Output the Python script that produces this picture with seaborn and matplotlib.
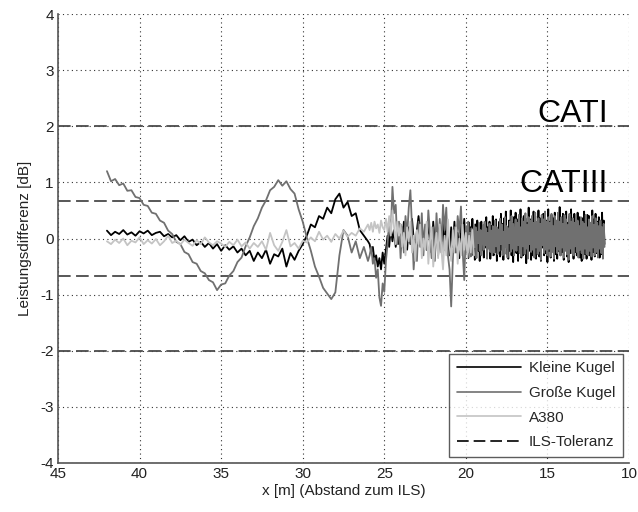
import numpy as np
import matplotlib
matplotlib.use("Agg")
import matplotlib.pyplot as plt
import seaborn as sns

# segment borders along x [m]: smooth part, noisy middle, dense band
x_start = 42.0
x_mid = 26.0
x_band = 20.0
x_end = 11.5
x_end_a380 = 19.5

# Kleine Kugel (black)
kleine_left = [0.14, 0.06, 0.12, 0.08, 0.15, 0.07, 0.11, 0.05, 0.13, 0.09, 0.14, 0.06, 0.10,
               0.12, 0.04, 0.08, 0.02, 0.06, -0.03, 0.04, -0.06,
               -0.02, -0.12, -0.06, -0.15, -0.08, -0.18, -0.10, -0.22, -0.12, -0.20, -0.14, -0.25,
               -0.18, -0.30, -0.22, -0.40, -0.25, -0.35, -0.20, -0.45, -0.28, -0.32, -0.18, -0.50,
               -0.26, -0.38, -0.22, -0.10,
               0.05, 0.25, 0.20, 0.40, 0.35, 0.55, 0.45, 0.70, 0.80, 0.55, 0.65, 0.40,
               0.45, 0.15, 0.05, -0.05]
kleine_mid = [-0.10, -0.25, -0.15, -0.40, -0.30, -0.50, -0.35, -0.55, -0.25, -0.45,
              -0.20, 0.05, -0.15, 0.20, -0.05, 0.15, -0.15, 0.10, -0.10, 0.25,
              -0.05, 0.30, 0.05, -0.20, 0.20, -0.10, 0.35, 0.00, -0.25, 0.15,
              0.40, 0.10, 0.30, -0.15, 0.20, -0.20, 0.25, 0.05, -0.25, 0.30,
              -0.10, 0.20, -0.30, 0.15, -0.05, 0.35, -0.20, 0.25, 0.00, -0.30,
              0.20, -0.15, 0.30, -0.25, 0.10, -0.35, 0.25, -0.10, 0.35, -0.20]
kleine_band = [-0.25, 0.15, -0.35, 0.28, -0.10, 0.20, -0.30, 0.35, -0.18, 0.08,
               -0.38, 0.25, -0.12, 0.32, -0.22, 0.18, -0.40, 0.10, 0.30, -0.20,
               0.12, -0.34, 0.26, -0.16, 0.38, -0.28, 0.20, -0.08, 0.30, -0.36,
               0.22, -0.18, 0.40, -0.30, 0.15, -0.24, 0.34, -0.40, 0.18, -0.12,
               0.30, -0.32, 0.44, -0.20, 0.26, -0.38, 0.36, -0.14, 0.48, -0.28,
               0.20, -0.36, 0.32, -0.22, 0.50, -0.30, 0.28, -0.42, 0.38, -0.16,
               0.46, -0.26, 0.34, -0.40, 0.30, -0.20, 0.52, -0.34, 0.24, -0.30,
               0.40, -0.18, 0.36, -0.44, 0.28, -0.26, 0.55, -0.22, 0.34, -0.38,
               0.30, -0.30, 0.48, -0.24, 0.40, -0.36, 0.26, -0.20, 0.50, -0.32,
               0.36, -0.40, 0.28, -0.16, 0.44, -0.30, 0.38, -0.26, 0.32, -0.42,
               0.52, -0.22, 0.30, -0.34, 0.42, -0.18, 0.36, -0.40, 0.46, -0.28,
               0.24, -0.36, 0.40, -0.22, 0.56, -0.30, 0.32, -0.24, 0.44, -0.38,
               0.34, -0.20, 0.48, -0.32, 0.28, -0.42, 0.40, -0.26, 0.52, -0.18,
               0.30, -0.36, 0.44, -0.24, 0.34, -0.30, 0.46, -0.20, 0.38, -0.34,
               0.26, -0.40, 0.36, -0.22, 0.48, -0.28, 0.32, -0.36, 0.42, -0.18,
               0.40, -0.30, 0.28, -0.38, 0.50, -0.24, 0.34, -0.32, 0.44, -0.26,
               0.30, -0.22, 0.38, -0.34, 0.26, -0.28, 0.46, -0.20, 0.32, -0.10]

# Grosse Kugel (dark grey)
grosse_left = [1.20, 1.02, 1.06, 0.95, 0.98, 0.85, 0.86, 0.74, 0.72, 0.60, 0.58, 0.46, 0.44,
               0.32, 0.28, 0.14, 0.08, -0.06, -0.10, -0.24, -0.28, -0.42, -0.45, -0.58, -0.62,
               -0.74, -0.78, -0.92, -0.82, -0.80, -0.66, -0.58, -0.42, -0.34, -0.14, 0.02, 0.22,
               0.36, 0.55, 0.68, 0.86, 0.92, 1.04, 0.94, 1.02, 0.88, 0.80, 0.52, 0.30,
               0.02, -0.22, -0.50, -0.68, -0.88, -0.98, -1.08, -0.96, -0.30, 0.15, 0.05, -0.25,
               -0.05, -0.35, -0.15, -0.40]
grosse_mid = [-0.30, -0.15, -0.45, -0.35, -0.70, -0.55, -1.05, -1.20, -0.80, -0.95,
              -0.40, -0.10, 0.35, 0.10, 0.92, 0.45, 0.60, -0.10, 0.30, -0.35,
              0.20, -0.25, 0.40, 0.05, 0.55, 0.86, 0.20, -0.55, -0.10, -0.40,
              0.30, -0.15, 0.45, -0.30, 0.25, -0.20, 0.50, 0.10, -0.35, 0.20,
              -0.40, 0.45, -0.10, 0.35, -0.25, 0.60, 0.15, 0.55, -0.30, -0.55,
              -1.21, -0.40, 0.20, -0.15, 0.40, 0.10, 0.57, -0.20, -0.74, 0.15]
grosse_band = [0.22, -0.18, 0.30, -0.25, 0.10, -0.32, 0.18, 0.02, -0.28, 0.25,
               -0.15, 0.20, -0.35, 0.12, -0.08, 0.28, -0.22, 0.15, -0.30, 0.05,
               0.24, -0.20, 0.30, -0.12, 0.18, -0.36, 0.10, -0.18, 0.26, -0.24,
               0.14, -0.30, 0.22, 0.00, -0.26, 0.32, -0.14, 0.20, -0.28, 0.16,
               -0.22, 0.35, -0.10, 0.25, -0.30, 0.12, -0.20, 0.38, -0.16, 0.22,
               -0.34, 0.18, -0.08, 0.30, -0.24, 0.40, -0.18, 0.26, -0.30, 0.10,
               0.34, -0.22, 0.28, -0.12, 0.42, -0.26, 0.20, -0.32, 0.36, -0.14,
               0.30, -0.28, 0.45, -0.18, 0.24, -0.36, 0.38, -0.10, 0.32, -0.24,
               0.40, -0.20, 0.28, -0.34, 0.46, -0.16, 0.30, -0.28, 0.36, -0.22,
               0.26, -0.38, 0.42, -0.12, 0.34, -0.26, 0.48, -0.20, 0.30, -0.30,
               0.38, -0.18, 0.28, -0.32, 0.44, -0.24, 0.22, -0.36, 0.40, -0.14,
               0.32, -0.26, 0.46, -0.20, 0.30, -0.30, 0.38, -0.16, 0.26, -0.34,
               0.42, -0.22, 0.34, -0.28, 0.24, -0.38, 0.44, -0.18, 0.30, -0.26,
               0.36, -0.30, 0.28, -0.14, 0.40, -0.24, 0.32, -0.34, 0.22, -0.20,
               0.38, -0.26, 0.30, -0.36, 0.26, -0.18, 0.42, -0.28, 0.20, -0.30,
               0.34, -0.22, 0.28, -0.32, 0.40, -0.16, 0.24, -0.30, 0.36, -0.24,
               0.28, -0.34, 0.22, -0.18, 0.32, -0.26, 0.20, -0.36, 0.26, -0.15]

# A380 (light grey)
a380_left = [-0.05, -0.10, -0.02, -0.08, 0.00, -0.12, -0.04, -0.07, 0.02, -0.10,
             -0.03, -0.09, -0.01, -0.12, -0.05, 0.05, -0.08, -0.04, -0.11, -0.02,
             -0.08, -0.13, -0.03, -0.10, 0.02, -0.07, -0.12, -0.05, -0.09, -0.15,
             -0.06, -0.12, -0.02, -0.14, -0.07, -0.18, -0.08,
             -0.15, -0.05, -0.20, 0.10, -0.12, -0.22, -0.06, 0.15, -0.14, -0.08, -0.18, -0.04,
             -0.07, 0.02, -0.05, 0.12, -0.02, 0.05, -0.06, 0.08, 0.00, 0.14, 0.03, 0.10,
             0.05, 0.18, 0.12, 0.25]
a380_mid = [0.15, 0.28, 0.12, 0.30, 0.18, 0.25, 0.10, 0.32, 0.20, 0.15,
            0.35, 0.12, 0.40, 0.05, 0.50, 0.20, -0.10, 0.30, 0.05, 0.25,
            -0.15, 0.10, -0.30, 0.20, -0.05, 0.30, -0.25, 0.05, -0.40, 0.15,
            -0.10, 0.25, -0.35, 0.00, -0.20, 0.30, -0.45, -0.05, 0.20, -0.50,
            -0.15, 0.10, -0.35, 0.25, -0.20, -0.55, 0.05, -0.30, 0.34, -0.10,
            -0.40, 0.15, -0.25, 0.20, -0.45, 0.00, -0.30, 0.25, -0.20, 0.10,
            -0.35, 0.05, -0.25, 0.15, -0.30]

tol_levels = [2.0, 0.67, -0.67, -2.0]
cat_labels = ["CATI", "CATIII"]
cat_y = [2.08, 0.83]


def seg_x(a, b, n, first):
    # sample positions of one segment; later segments skip the shared border point
    if first:
        return np.linspace(a, b, n)
    return np.linspace(a, b, n + 1)[1:]


def series(parts):
    xs, ys = [], []
    for i, (a, b, vals) in enumerate(parts):
        xs.append(seg_x(a, b, len(vals), i == 0))
        ys.extend(vals)
    return np.concatenate(xs), np.array(ys)


sns.set_theme(style="white")
plt.rcParams['font.family'] = ['Liberation Sans', 'DejaVu Sans']
plt.rcParams['axes.unicode_minus'] = False

fig = plt.figure(figsize=(6.38, 5.12), dpi=100)
ax = fig.add_axes([58 / 638, 49 / 512, 571 / 638, 449 / 512])

grid_style = dict(color='#333333', lw=0.8, linestyle=(0, (1, 3)), zorder=0)
for gx in range(10, 46, 5):
    ax.axvline(gx, **grid_style)
for gy in range(-4, 5):
    ax.axhline(gy, **grid_style)

xk, yk = series([(x_start, x_mid, kleine_left), (x_mid, x_band, kleine_mid), (x_band, x_end, kleine_band)])
xg, yg = series([(x_start, x_mid, grosse_left), (x_mid, x_band, grosse_mid), (x_band, x_end, grosse_band)])
xa, ya = series([(x_start, x_mid, a380_left), (x_mid, x_end_a380, a380_mid)])

sns.lineplot(x=xk, y=yk, color='black', lw=1.3, sort=False, estimator=None, ax=ax, label='Kleine Kugel')
sns.lineplot(x=xg, y=yg, color='#707070', lw=1.3, sort=False, estimator=None, ax=ax, label='Große Kugel')
sns.lineplot(x=xa, y=ya, color='#c4c4c4', lw=1.3, sort=False, estimator=None, ax=ax, label='A380')

for i, lv in enumerate(tol_levels):
    ax.axhline(lv, color='#4a4a4a', lw=1.3, linestyle=(0, (7, 3)),
               label='ILS-Toleranz' if i == 0 else None, zorder=1)

for lab, yy in zip(cat_labels, cat_y):
    ax.text(11.3, yy, lab, ha='right', va='baseline', fontsize=23, color='black')

ax.set_xlim(45, 10)
ax.set_ylim(-4, 4)
ax.set_xticks(range(45, 9, -5))
ax.set_yticks(range(-4, 5))
ax.tick_params(direction='in', length=4, width=1, colors='#555555', labelcolor='#222222',
               labelsize=11, pad=3)
ax.set_xlabel('x [m] (Abstand zum ILS)', fontsize=11, color='#222222', labelpad=2)
ax.set_ylabel('Leistungsdifferenz [dB]', fontsize=11, color='#222222', labelpad=6)
for side in ['top', 'right']:
    ax.spines[side].set_visible(False)
for side in ['left', 'bottom']:
    ax.spines[side].set_color('#555555')
    ax.spines[side].set_linewidth(1.2)

leg = ax.legend(loc='lower right', fontsize=11, handlelength=4.2, frameon=True,
                fancybox=False, borderaxespad=0.4, labelspacing=0.7, borderpad=0.5,
                handletextpad=0.5)
leg.get_frame().set_edgecolor('#333333')
leg.get_frame().set_linewidth(1.0)
leg_lines = leg.get_lines()
leg_lines[3].set_color('black')
for ln in leg_lines:
    ln.set_linewidth(1.2)

fig.savefig('out.png', dpi=100)
